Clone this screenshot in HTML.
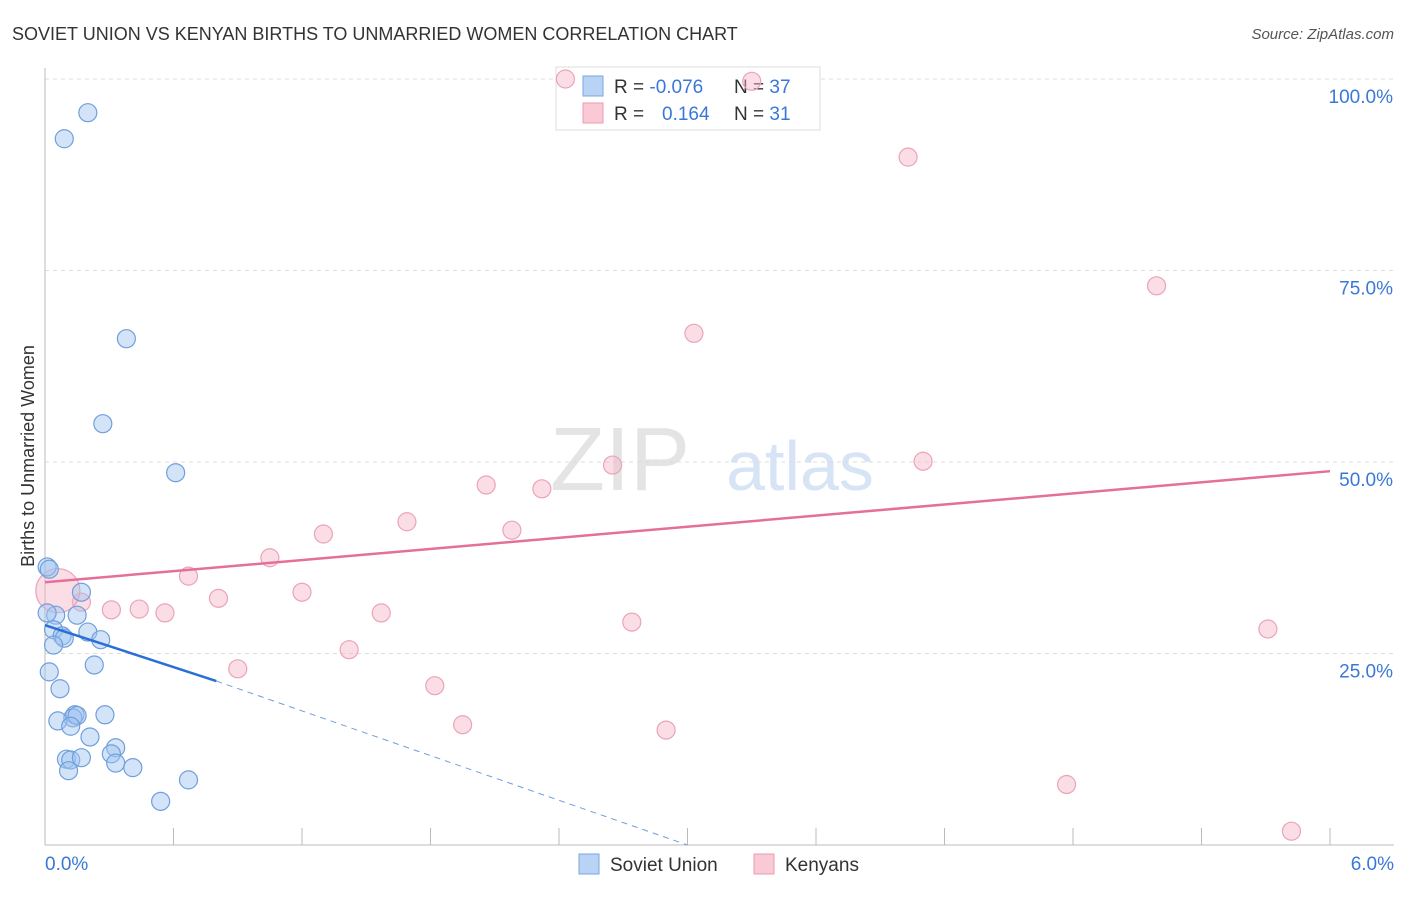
<!DOCTYPE html>
<html><head><meta charset="utf-8"><style>
body{margin:0;background:#fff;font-family:"Liberation Sans",sans-serif;}
svg text{font-family:"Liberation Sans",sans-serif;}
</style></head><body>
<svg width="1406" height="892" xmlns="http://www.w3.org/2000/svg" id="chart">
<text x="12" y="40" font-size="18" fill="#333">SOVIET UNION VS KENYAN BIRTHS TO UNMARRIED WOMEN CORRELATION CHART</text>
<text x="1394" y="39" font-size="15" fill="#555" text-anchor="end" font-style="italic">Source: ZipAtlas.com</text>
<text x="620" y="490" font-size="90" fill="#e4e4e4" font-family="Liberation Serif" text-anchor="middle">ZIP</text>
<text x="800" y="490" font-size="70" fill="#d6e4f5" text-anchor="middle">atlas</text>
<text transform="translate(34,456) rotate(-90)" font-size="18" fill="#333" text-anchor="middle">Births to Unmarried Women</text>
<g id="grid"></g><g id="axes"></g>
<g>
<rect x="556" y="67" width="264" height="63" fill="#fff" stroke="#ddd"/>
<rect x="583" y="76" width="20" height="20" fill="#b8d3f5" stroke="#7aa7e0"/>
<rect x="583" y="103" width="20" height="20" fill="#f9c9d6" stroke="#eb9bb3"/>
<text x="614" y="93" font-size="19" fill="#333">R = <tspan fill="#3a78d8">-0.076</tspan></text>
<text x="734" y="93" font-size="19" fill="#333">N = <tspan fill="#3a78d8">37</tspan></text>
<text x="614" y="120" font-size="19" fill="#333">R = <tspan fill="#3a78d8" x="662">0.164</tspan></text>
<text x="734" y="120" font-size="19" fill="#333">N = <tspan fill="#3a78d8">31</tspan></text>
</g>
<g id="marks"></g>
<g>
<rect x="579" y="854" width="20" height="20" fill="#b8d3f5" stroke="#7aa7e0"/>
<text x="610" y="871" font-size="19" fill="#333">Soviet Union</text>
<rect x="754" y="854" width="20" height="20" fill="#f9c9d6" stroke="#eb9bb3"/>
<text x="785" y="871" font-size="19" fill="#333">Kenyans</text>
</g>
</svg>
<script>
const xTicks=[0,0.6,1.2,1.8,2.4,3.0,3.6,4.2,4.8,5.4,6.0];
const yTicks=[25,50,75,100];
const yTickLabels=["25.0%","50.0%","75.0%","100.0%"];
const sovietX=[0.2,0.09,0.38,0.27,0.61,0.01,0.02,0.17,0.05,0.15,0.04,0.20,0.08,0.09,0.26,0.04,0.23,0.02,0.07,0.14,0.13,0.15,0.28,0.06,0.12,0.21,0.33,0.31,0.10,0.12,0.17,0.33,0.11,0.41,0.67,0.54,0.01];
const sovietY=[95.6,92.2,66.1,55.0,48.6,36.3,36.0,33.0,30.0,30.0,28.1,27.8,27.3,27.0,26.8,26.1,23.5,22.6,20.4,17.0,16.6,16.9,17.0,16.2,15.5,14.1,12.7,11.9,11.2,11.1,11.4,10.7,9.7,10.1,8.5,5.7,30.3];
const kenyaX=[2.43,3.3,4.03,5.19,3.03,2.65,4.1,2.06,2.32,1.69,2.18,1.30,1.05,0.67,1.20,0.17,0.31,0.44,0.56,0.81,1.57,2.74,5.71,1.42,0.90,1.82,1.95,2.90,4.77,5.82,0.06];
const kenyaY=[100,99.7,89.8,73.0,66.8,49.6,50.1,47.0,46.5,42.2,41.1,40.6,37.5,35.1,33.0,31.7,30.7,30.8,30.3,32.2,30.3,29.1,28.2,25.5,23.0,20.8,15.7,15.0,7.9,1.8,33.2];
const kenyaR=[9,9,9,9,9,9,9,9,9,9,9,9,9,9,9,9,9,9,9,9,9,9,9,9,9,9,9,9,9,9,22];
const sovietTrend=[[0,28.7],[0.8,21.4]];
const sovietDash=[[0.8,21.4],[3.0,0]];
const kenyaTrend=[[0,34.3],[6.0,48.8]];
const X=v=>45+v/6*1285, Y=v=>845-v/100*766;
const NS="http://www.w3.org/2000/svg";
function mk(t,a,p){const e=document.createElementNS(NS,t);for(const k in a)e.setAttribute(k,a[k]);p.appendChild(e);return e;}
const grid=document.getElementById('grid'),axes=document.getElementById('axes'),marks=document.getElementById('marks');
yTicks.forEach((t,i)=>{
 const l=mk('line',{x1:45,x2:1394,y1:Y(t),y2:Y(t),stroke:'#ddd','stroke-dasharray':'4,4'},grid);
 
 
 const tx=mk('text',{x:1393,y:Y(t)+24,'font-size':19,fill:'#3a78d8','text-anchor':'end'},axes);
 tx.textContent=yTickLabels[i];
 
 
});
const ya=mk('line',{x1:45,x2:45,y1:68,y2:845,stroke:'#bbb'},axes);


const xa=mk('line',{x1:45,x2:1394,y1:845,y2:845,stroke:'#bbb'},axes);


xTicks.forEach(t=>{const l=mk('line',{x1:X(t),x2:X(t),y1:828,y2:845,stroke:'#bbb'},axes);
 
 });
[[0,'0.0%','start',45],[6,'6.0%','end',1394]].forEach(d=>{const t=mk('text',{x:d[3],y:870,'font-size':19,fill:'#3a78d8','text-anchor':d[2]},axes);t.textContent=d[1];
 
 });
kenyaX.forEach((x,i)=>{const c=mk('circle',{cx:X(x),cy:Y(kenyaY[i]),r:kenyaR[i],fill:'rgba(246,180,200,0.45)',stroke:'#eba3b9','stroke-width':1.2},marks);
 
 });
sovietX.forEach((x,i)=>{const c=mk('circle',{cx:X(x),cy:Y(sovietY[i]),r:9,fill:'rgba(160,196,240,0.45)',stroke:'#6f9fdc','stroke-width':1.2},marks);
 
 });
const kl=mk('line',{x1:X(kenyaTrend[0][0]),y1:Y(kenyaTrend[0][1]),x2:X(kenyaTrend[1][0]),y2:Y(kenyaTrend[1][1]),stroke:'#e4709a','stroke-width':2.5},marks);


const sl=mk('line',{x1:X(sovietTrend[0][0]),y1:Y(sovietTrend[0][1]),x2:X(sovietTrend[1][0]),y2:Y(sovietTrend[1][1]),stroke:'#2a6fd6','stroke-width':2.5},marks);


const sd=mk('line',{x1:X(sovietDash[0][0]),y1:Y(sovietDash[0][1]),x2:X(sovietDash[1][0]),y2:Y(sovietDash[1][1]),stroke:'#6f9fdc','stroke-width':1,'stroke-dasharray':'6,5'},marks);


</script>
</body></html>
